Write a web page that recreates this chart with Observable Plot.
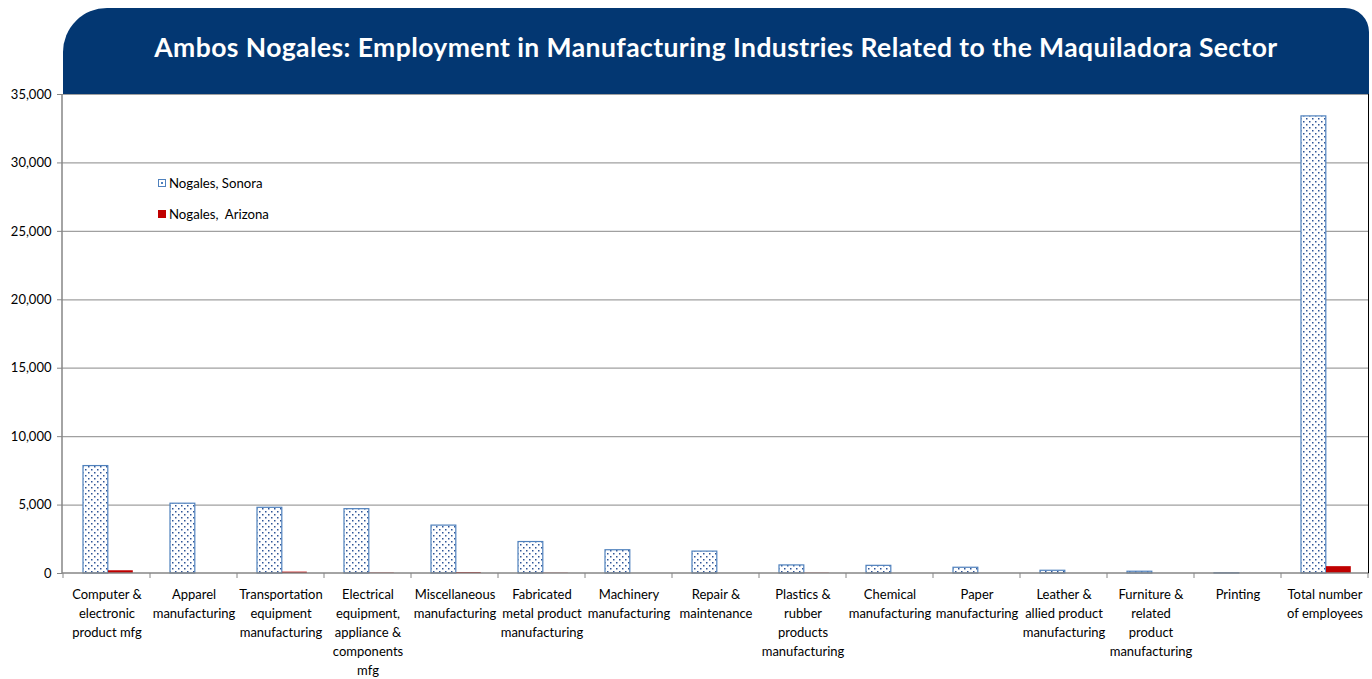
<!DOCTYPE html>
<html>
<head>
<meta charset="utf-8">
<script src="https://cdn.jsdelivr.net/npm/d3@7"></script>
<script src="https://cdn.jsdelivr.net/npm/@observablehq/plot@0.6"></script>
<style>
  html, body { margin: 0; padding: 0; background: #fff; }
  #wrap { position: relative; width: 1372px; height: 679px; overflow: hidden; font-family: Lato, "Open Sans", sans-serif; }
  #banner { position: absolute; left: 63px; top: 8px; width: 1306px; height: 86px; background: #033772;
    border-top-left-radius: 44px 44px; border-top-right-radius: 24px 24px; z-index: 2;
    display: flex; align-items: center; justify-content: center; }
  #banner span { color: #fff; font-family: Lato, "Open Sans", sans-serif; font-weight: 700; font-size: 26.5px; white-space: nowrap; position: relative; top: -4px; }
  #legend { position: absolute; left: 158px; top: 167px; font-size: 13.2px; color: #000; z-index: 2; }
  .item { display: flex; align-items: center; height: 31px; line-height: 20px; }
  .sw { width: 8px; height: 8px; margin-right: 3px; box-sizing: border-box; }
</style>
</head>
<body>
<div id="wrap">
  <div id="banner"><span id="title"></span></div>
  <div id="legend"></div>
  <div id="chart"></div>
</div>
<script>
const titleText = "Ambos Nogales: Employment in Manufacturing Industries Related to the Maquiladora Sector";
const categories = [
  "Computer & electronic product mfg",
  "Apparel manufacturing",
  "Transportation equipment manufacturing",
  "Electrical equipment, appliance & components mfg",
  "Miscellaneous manufacturing",
  "Fabricated metal product manufacturing",
  "Machinery manufacturing",
  "Repair & maintenance",
  "Plastics & rubber products manufacturing",
  "Chemical manufacturing",
  "Paper manufacturing",
  "Leather & allied product manufacturing",
  "Furniture & related product manufacturing",
  "Printing",
  "Total number of employees"
];
const tickLabels = [
  "Computer &\nelectronic\nproduct mfg",
  "Apparel\nmanufacturing",
  "Transportation\nequipment\nmanufacturing",
  "Electrical\nequipment,\nappliance &\ncomponents\nmfg",
  "Miscellaneous\nmanufacturing",
  "Fabricated\nmetal product\nmanufacturing",
  "Machinery\nmanufacturing",
  "Repair &\nmaintenance",
  "Plastics &\nrubber\nproducts\nmanufacturing",
  "Chemical\nmanufacturing",
  "Paper\nmanufacturing",
  "Leather &\nallied product\nmanufacturing",
  "Furniture &\nrelated\nproduct\nmanufacturing",
  "Printing",
  "Total number\nof employees"
];
const seriesNames = ["Nogales, Sonora", "Nogales,  Arizona"];
const sonora  = [7850, 5100, 4800, 4700, 3500, 2300, 1700, 1600, 590, 560, 420, 200, 130, 15, 33400];
const arizona = [200, 0, 100, 30, 70, 20, 0, 0, 20, 0, 0, 0, 0, 0, 500];
const yTicks = [0, 5000, 10000, 15000, 20000, 25000, 30000, 35000];

const sonoraStroke = "#4f81bd";
const arizonaFill = "#c00000";
const gridColor = "#a0a0a0";

const titleEl = document.getElementById("title");
titleEl.textContent = titleText;
// stretch the title to the reference's span width
{
  const target = 1123;
  const w = titleEl.getBoundingClientRect().width;
  const n = titleText.length - 1;
  titleEl.style.letterSpacing = ((target - w) / n).toFixed(3) + "px";
}

// legend
const legend = document.getElementById("legend");
seriesNames.forEach((name, i) => {
  const item = document.createElement("div");
  item.className = "item";
  const sw = document.createElement("div");
  sw.className = "sw";
  if (i === 0) {
    sw.style.border = "1px solid " + sonoraStroke;
    sw.style.background = "radial-gradient(circle, " + sonoraStroke + " 1px, #fff 1.2px)";
  } else {
    sw.style.background = arizonaFill;
  }
  const t = document.createElement("span");
  t.textContent = name;
  t.style.whiteSpace = "pre";
  item.appendChild(sw);
  item.appendChild(t);
  legend.appendChild(item);
});

const rowsS = categories.map((c, i) => ({category: c, value: sonora[i]}));
const rowsA = categories.map((c, i) => ({category: c, value: arizona[i]}));
const labelOf = new Map(categories.map((c, i) => [c, tickLabels[i]]));

// pattern definition
const defs = () => {
  const g = d3.create("svg:defs");
  const p = g.append("pattern").attr("id", "dots").attr("patternUnits", "userSpaceOnUse")
    .attr("width", 6).attr("height", 6);
  p.append("rect").attr("width", 6).attr("height", 6).attr("fill", "#fff");
  p.append("rect").attr("x", 1).attr("y", 1).attr("width", 1.5).attr("height", 1.5).attr("fill", "#2f5597");
  p.append("rect").attr("x", 4).attr("y", 4).attr("width", 1.5).attr("height", 1.5).attr("fill", "#2f5597");
  return g.node();
};

// axis lines, boundary ticks, right border
const axisLines = (index, scales, values, dims) => {
  const g = d3.create("svg:g");
  const x = scales.x, y = scales.y;
  const step = x(categories[1]) - x(categories[0]);
  const y0 = y(0), yTop = y(35000);
  const left = dims.marginLeft, right = dims.width - dims.marginRight;
  g.append("line").attr("x1", left).attr("x2", left).attr("y1", yTop).attr("y2", y0 + 0.5)
    .attr("stroke", "#868686").attr("stroke-width", 1.5);
  g.append("line").attr("x1", left).attr("x2", right).attr("y1", y0).attr("y2", y0)
    .attr("stroke", "#868686").attr("stroke-width", 1.5);
  const bounds = categories.map(c => x(c)).concat([x(categories[categories.length - 1]) + step]);
  bounds.forEach(b => {
    g.append("line").attr("x1", b).attr("x2", b).attr("y1", y0).attr("y2", y0 + 5)
      .attr("stroke", "#868686").attr("stroke-width", 1);
  });
  g.append("line").attr("x1", right - 0.5).attr("x2", right - 0.5).attr("y1", yTop).attr("y2", y0)
    .attr("stroke", "#000").attr("stroke-width", 1);
  return g.node();
};

const chart = Plot.plot({
  width: 1372,
  height: 679,
  marginLeft: 62,
  marginRight: 3,
  marginTop: 94,
  marginBottom: 106,
  style: {fontFamily: "Lato, 'Open Sans', sans-serif", fontSize: "12.5px", color: "#000", background: "transparent", overflow: "visible"},
  x: {domain: categories, padding: 0, label: null},
  y: {domain: [0, 35000], label: null},
  marks: [
    defs,
    Plot.ruleY(yTicks.slice(1), {stroke: gridColor, strokeWidth: 1.2}),
    Plot.barY(rowsS, {x: "category", y: "value", fill: "url(#dots)", stroke: sonoraStroke, strokeWidth: 1.2, insetLeft: 20, insetRight: 42.2}),
    Plot.barY(rowsA, {x: "category", y: "value", fill: arizonaFill, insetLeft: 45, insetRight: 17.2}),
    axisLines,
    Plot.axisY({ticks: yTicks, tickFormat: d3.format(","), tickSize: 5, tickPadding: 6, stroke: "#868686", fontSize: 13, label: null}),
    Plot.axisX({tickSize: 0, tickPadding: 12, tickFormat: d => labelOf.get(d), lineHeight: 1.46, fontSize: 13, label: null})
  ]
});
document.getElementById("chart").appendChild(chart);
</script>
</body>
</html>
